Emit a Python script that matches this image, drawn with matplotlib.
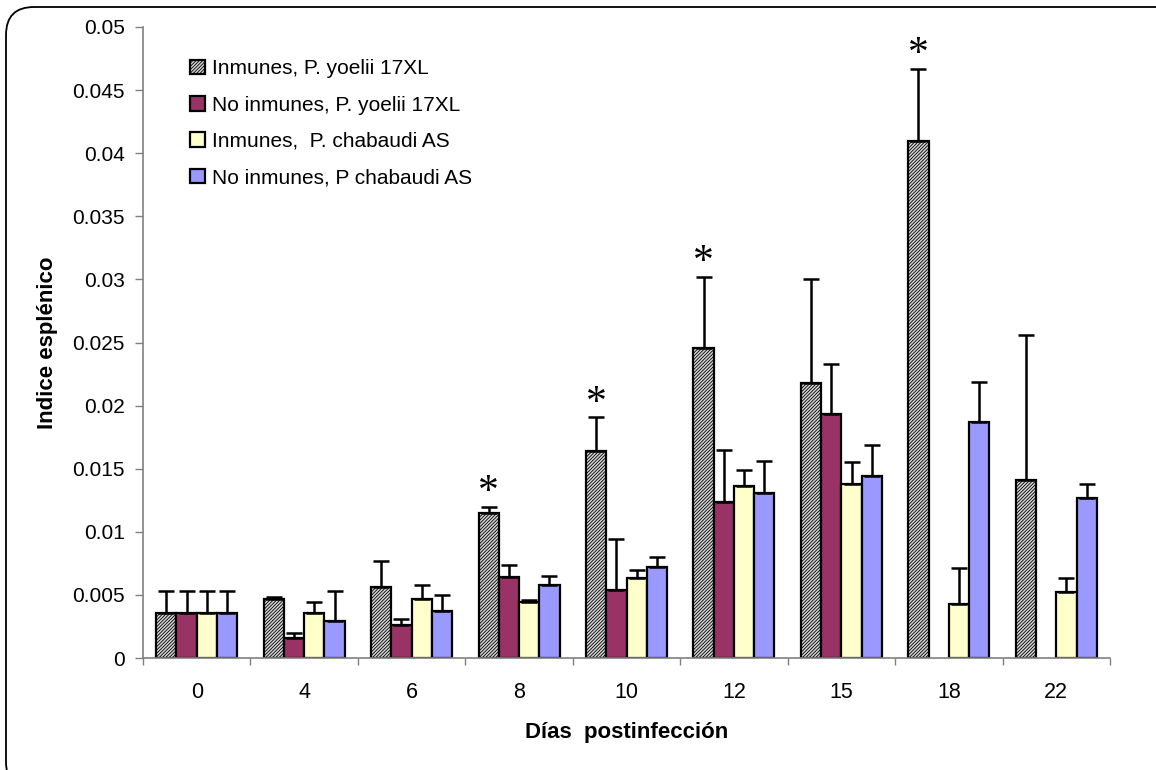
import numpy as np
import matplotlib
matplotlib.use("Agg")
import matplotlib.pyplot as plt
from matplotlib.patches import FancyBboxPatch

plt.rcParams['font.family'] = ['Liberation Sans', 'DejaVu Sans']
plt.rcParams['hatch.linewidth'] = 0.6

days = ["0", "4", "6", "8", "10", "12", "15", "18", "22"]
series_labels = ["Inmunes, P. yoelii 17XL",
                 "No inmunes, P. yoelii 17XL",
                 "Inmunes,  P. chabaudi AS",
                 "No inmunes, P chabaudi AS"]

# mean spleen index per group (NaN = no data)
inm_yoelii = [0.0036, 0.0047, 0.0056, 0.0115, 0.0164, 0.0246, 0.0218, 0.0410, 0.0141]
noinm_yoelii = [0.0036, 0.0016, 0.0026, 0.0064, 0.0054, 0.0124, 0.0193, np.nan, np.nan]
inm_chabaudi = [0.0036, 0.0036, 0.0047, 0.0044, 0.0063, 0.0136, 0.0138, 0.0043, 0.0052]
noinm_chabaudi = [0.0036, 0.0029, 0.0037, 0.0058, 0.0072, 0.0131, 0.0144, 0.0187, 0.0127]

# standard deviations (upper error bars)
err_inm_yoelii = [0.0017, 0.0001, 0.0021, 0.0005, 0.0027, 0.0056, 0.0082, 0.0057, 0.0115]
err_noinm_yoelii = [0.0017, 0.0004, 0.0005, 0.0010, 0.0040, 0.0041, 0.0040, np.nan, np.nan]
err_inm_chabaudi = [0.0017, 0.0008, 0.0011, 0.0002, 0.0007, 0.0013, 0.0017, 0.0028, 0.0011]
err_noinm_chabaudi = [0.0017, 0.0024, 0.0013, 0.0007, 0.0008, 0.0025, 0.0025, 0.0032, 0.0011]

# days with significant difference for immune P. yoelii group
significant = ["8", "10", "12", "18"]

means = [inm_yoelii, noinm_yoelii, inm_chabaudi, noinm_chabaudi]
errs = [err_inm_yoelii, err_noinm_yoelii, err_inm_chabaudi, err_noinm_chabaudi]
colors = ["#d4d4d4", "#993366", "#ffffcc", "#9999ff"]
hatches = ["//////////", None, None, None]

fig = plt.figure(figsize=(11.56, 7.70), dpi=100)
ax = fig.add_axes([143 / 1156, 1 - 658 / 770, (1110 - 143) / 1156, (658 - 27) / 770])

n = len(days)
x = np.arange(n)
bw = 0.1886
offsets = (np.arange(4) - 1.5) * bw

for i in range(4):
    m = np.array(means[i], dtype=float)
    e = np.array(errs[i], dtype=float)
    ok = ~np.isnan(m)
    ax.bar(x[ok] + offsets[i], m[ok], width=bw, color=colors[i],
           edgecolor="black", linewidth=1.6, hatch=hatches[i],
           label=series_labels[i], zorder=2)
    ax.errorbar(x[ok] + offsets[i], m[ok], yerr=[np.zeros(ok.sum()), e[ok]],
                fmt="none", ecolor="black", elinewidth=1.8, capsize=6,
                capthick=1.8, zorder=3)

for lab in significant:
    k = days.index(lab)
    top = inm_yoelii[k] + err_inm_yoelii[k]
    ax.annotate("*", xy=(x[k] + offsets[0], top), xytext=(0, -4),
                textcoords="offset points", ha="center", va="bottom",
                fontsize=30, family=["Liberation Serif", "DejaVu Serif"],
                zorder=4)

ax.set_xlim(-0.5, n - 0.5)
ax.set_ylim(0, 0.05)
ax.set_yticks(np.arange(0, 0.0501, 0.005))
ax.set_yticklabels(["0", "0.005", "0.01", "0.015", "0.02", "0.025", "0.03",
                    "0.035", "0.04", "0.045", "0.05"])
ax.set_xticks(x)
ax.set_xticklabels(days)
ax.set_xticks(np.arange(-0.5, n, 1.0), minor=True)
ax.tick_params(axis="x", which="major", length=0, pad=17, labelsize=15.5)
ax.tick_params(axis="x", which="minor", length=5, width=1, color="#808080", direction="out")
ax.tick_params(axis="y", which="major", length=6, width=1, color="#808080",
               pad=7, labelsize=15)

for s in ["top", "right"]:
    ax.spines[s].set_visible(False)
for s in ["left", "bottom"]:
    ax.spines[s].set_color("#808080")
    ax.spines[s].set_linewidth(1.2)
ax.set_zorder(1)

ax.set_xlabel("Días  postinfección", fontsize=16, fontweight="bold", labelpad=14)
ax.set_ylabel("Indice esplénico", fontsize=16, fontweight="bold", labelpad=10)

leg = ax.legend(loc="upper left", bbox_to_anchor=(182 / 1156, 1 - 51 / 770),
                bbox_transform=fig.transFigure, frameon=False, fontsize=15,
                handlelength=0.7, handleheight=0.7, handletextpad=0.35,
                labelspacing=0.83, borderaxespad=0)

frame = FancyBboxPatch((0.06, -0.2), 11.8, 7.63 + 0.2,
                       boxstyle="round,pad=0,rounding_size=0.28",
                       transform=fig.dpi_scale_trans, fill=False,
                       edgecolor="black", linewidth=1.3, clip_on=False)
fig.patches.append(frame)

fig.savefig("out.png", dpi=100)
